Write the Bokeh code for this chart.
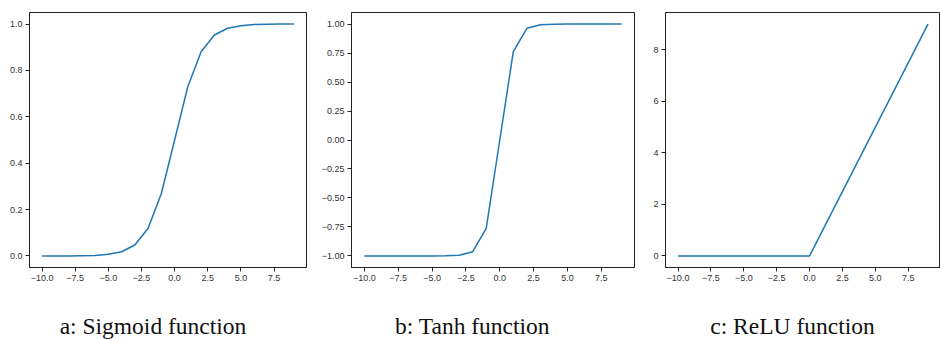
from bokeh.plotting import figure
from bokeh.layouts import row, column
from bokeh.models import FixedTicker, Range1d, Label, CustomJSTickFormatter
from bokeh.embed import file_html
from bokeh.resources import INLINE

# ---- data ----
x_vals = [-10, -9, -8, -7, -6, -5, -4, -3, -2, -1, 0, 1, 2, 3, 4, 5, 6, 7, 8, 9]
sigmoid_vals = [0.000, 0.000, 0.000, 0.001, 0.002, 0.007, 0.018, 0.047, 0.119, 0.269,
                0.500, 0.731, 0.881, 0.953, 0.982, 0.993, 0.998, 0.999, 1.000, 1.000]
tanh_vals = [-1.000, -1.000, -1.000, -1.000, -1.000, -1.000, -0.999, -0.995, -0.964, -0.762,
             0.000, 0.762, 0.964, 0.995, 0.999, 1.000, 1.000, 1.000, 1.000, 1.000]
relu_vals = [0, 0, 0, 0, 0, 0, 0, 0, 0, 0, 0, 1, 2, 3, 4, 5, 6, 7, 8, 9]

x_ticks = [-10.0, -7.5, -5.0, -2.5, 0.0, 2.5, 5.0, 7.5]
x_labels = ["\u221210.0", "\u22127.5", "\u22125.0", "\u22122.5", "0.0", "2.5", "5.0", "7.5"]
sig_yticks = [0.0, 0.2, 0.4, 0.6, 0.8, 1.0]
sig_ylabels = ["0.0", "0.2", "0.4", "0.6", "0.8", "1.0"]
tanh_yticks = [-1.0, -0.75, -0.5, -0.25, 0.0, 0.25, 0.5, 0.75, 1.0]
tanh_ylabels = ["\u22121.00", "\u22120.75", "\u22120.50", "\u22120.25", "0.00", "0.25", "0.50", "0.75", "1.00"]
relu_yticks = [0, 2, 4, 6, 8]
relu_ylabels = ["0", "2", "4", "6", "8"]
captions = ["a: Sigmoid function", "b: Tanh function", "c: ReLU function"]

TICK_FONT = "Liberation Sans"
EDGE = "#222222"
PLOT_H = 300
CAP_H = 39


def labels_formatter(labels):
    return CustomJSTickFormatter(args=dict(labels=labels), code="return labels[index];")


def make(ys, yr, yticks, ylabels, width, bl, br):
    p = figure(width=width, height=PLOT_H, output_backend="svg", toolbar_location=None,
               x_range=Range1d(-10.95, 9.95), y_range=Range1d(*yr),
               min_border_left=bl, min_border_right=br, min_border_top=12, min_border_bottom=33)
    p.line(x_vals, ys, line_color="#1f77b4", line_width=1.5)
    p.grid.visible = False
    p.outline_line_color = EDGE
    p.outline_line_width = 1
    p.background_fill_color = "white"
    p.border_fill_color = "white"
    for ax in (p.xaxis[0], p.yaxis[0]):
        ax.major_tick_out = 4
        ax.major_tick_in = 0
        ax.minor_tick_out = 0
        ax.minor_tick_in = 0
        ax.major_tick_line_color = EDGE
        ax.axis_line_color = EDGE
        ax.major_label_text_font = TICK_FONT
        ax.major_label_text_font_size = "9px"
        ax.major_label_text_color = "#333333"
        ax.major_label_standoff = 3
    p.xaxis[0].ticker = FixedTicker(ticks=x_ticks)
    p.xaxis[0].formatter = labels_formatter(x_labels)
    p.yaxis[0].ticker = FixedTicker(ticks=yticks)
    p.yaxis[0].formatter = labels_formatter(ylabels)
    return p


p1 = make(sigmoid_vals, (-0.05, 1.05), sig_yticks, sig_ylabels, 318, 29, 12)
p2 = make(tanh_vals, (-1.1, 1.1), tanh_yticks, tanh_ylabels, 322, 29, 6)
p3 = make(relu_vals, (-0.45, 9.45), relu_yticks, relu_ylabels, 300, 25, 0)

# caption strip
cap = figure(width=940, height=CAP_H, output_backend="svg", toolbar_location=None,
             x_range=Range1d(0, 940), y_range=Range1d(0, CAP_H),
             x_axis_location=None, y_axis_location=None,
             min_border_left=0, min_border_right=0, min_border_top=0, min_border_bottom=0)
cap.grid.visible = False
cap.outline_line_color = None
for cx, text in zip([152.5, 472, 792], captions):
    cap.add_layout(Label(x=cx, y=14, x_units="screen", y_units="screen", text=text,
                         text_align="center", text_baseline="alphabetic",
                         text_font="Liberation Serif", text_font_size="23.5px",
                         text_color="#111111"))

layout = column(row(p1, p2, p3, spacing=0), cap, spacing=0)
open("out.html", "w").write(file_html(layout, INLINE))
